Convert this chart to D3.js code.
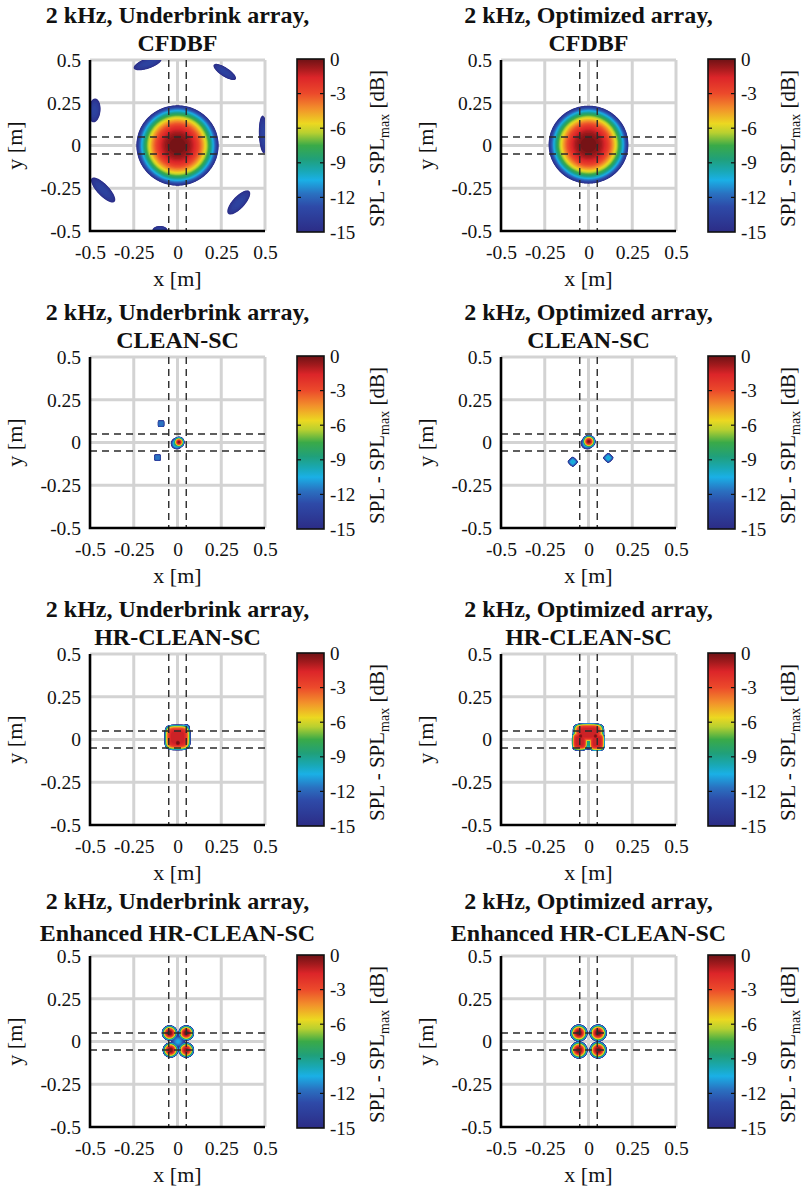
<!DOCTYPE html>
<html>
<head>
<meta charset="utf-8">
<script src="https://cdn.jsdelivr.net/npm/d3@7"></script>
<style>
body { margin: 0; background: #fff; }
text { font-family: "Liberation Serif", "Times New Roman", serif; fill: #111; }
</style>
</head>
<body>
<svg id="mainsvg" width="804" height="1197"></svg>
<script>
// ---- chart values ----
var arrayNames = ["Underbrink", "Optimized"];
var methodNames = ["CFDBF", "CLEAN-SC", "HR-CLEAN-SC", "Enhanced HR-CLEAN-SC"];
var axisTicks = [-0.5, -0.25, 0, 0.25, 0.5];
var axisTickLabels = ["-0.5", "-0.25", "0", "0.25", "0.5"];
var gridValues = [-0.25, 0, 0.25, 0.5];
var sourceLines = [-0.05, 0.05];
var cbTicks = [0, -3, -6, -9, -12, -15];
var cmapLevels = [0, -0.8, -1.6, -3, -4.3, -5.6, -6.4, -7.5, -8.7, -9.7, -10.5, -11.7, -12.8, -15];
var cmapColors = ["#6e1215", "#a31a1d", "#dc2529", "#ec4a2b", "#f2902b", "#ecd821", "#b8d030", "#3aaa48",
                  "#20a07a", "#19a8b4", "#1ab0e6", "#2a70c0", "#2e4aa8", "#2c2c86"];

// map lobes: [x, y, peak dB, rx, ry, angle deg, shape q, falloff p]
var ubCfdbf = [
  [0, 0, 0, 0.235, 0.235, 0, 2, 2.5],
  [-0.17, 0.48, -13.4, 0.085, 0.03, 20, 2, 3],
  [0.27, 0.43, -13.4, 0.076, 0.026, -34, 2, 3],
  [-0.475, 0.205, -13.4, 0.07, 0.035, 85, 2, 3],
  [0.49, 0.065, -13.4, 0.11, 0.025, 92, 2, 3],
  [-0.425, -0.26, -13.4, 0.095, 0.034, -47, 2, 3],
  [0.35, -0.333, -13.4, 0.09, 0.035, 48, 2, 3],
  [-0.1, -0.5, -13.4, 0.045, 0.03, 0, 2, 3]
];
var optCfdbf = [
  [0, 0.005, 0, 0.228, 0.228, 0, 2, 2.5]
];
var ubClean = [
  [0.008, 0.002, 0, 0.032, 0.032, 0, 2, 1.8],
  [-0.004, -0.006, -8, 0.034, 0.034, 0, 2, 2],
  [-0.094, 0.11, -11.6, 0.019, 0.019, 0, 6, 6],
  [-0.114, -0.088, -11.6, 0.019, 0.019, 0, 6, 6]
];
var optClean = [
  [0.002, 0.006, 0, 0.038, 0.038, 0, 2, 2],
  [-0.008, -0.004, -8.5, 0.036, 0.036, 0, 2, 2],
  [-0.09, -0.113, -10.2, 0.03, 0.03, 0, 1.2, 3],
  [0.113, -0.09, -10.2, 0.03, 0.03, 0, 1.2, 3]
];
var ubHr = [
  [0, 0.012, -1.3, 0.075, 0.075, 0, 4, 6],
  [0.002, -0.02, 0, 0.022, 0.022, 0, 2, 4],
  [0.05, 0.07, -9, 0.02, 0.02, 0, 2, 2]
];
var optHr = [
  [0, 0.04, -1.3, 0.09, 0.055, 0, 4, 6],
  [-0.05, -0.01, -1.3, 0.045, 0.055, 0, 4, 6],
  [0.048, -0.012, -1.3, 0.045, 0.055, 0, 4, 6],
  [0, -0.025, -8.5, 0.03, 0.035, 0, 2, 2],
  [-0.045, 0.02, 0, 0.018, 0.018, 0, 2, 4],
  [0.04, 0.02, 0, 0.018, 0.018, 0, 2, 4]
];
var ubEnh = [
  [-0.045, 0.05, 0, 0.045, 0.045, 0, 2, 2.5],
  [0.05, 0.05, 0, 0.045, 0.045, 0, 2, 2.5],
  [-0.04, -0.05, 0, 0.045, 0.045, 0, 2, 2.5],
  [0.05, -0.05, -0.5, 0.045, 0.045, 0, 2, 2.5],
  [0.003, 0, -10.5, 0.04, 0.04, 0, 2, 2]
];
var optEnh = [
  [-0.055, 0.05, 0, 0.05, 0.05, 0, 2, 2.5],
  [0.055, 0.05, 0, 0.05, 0.05, 0, 2, 2.5],
  [-0.055, -0.05, 0, 0.05, 0.05, 0, 2, 2.5],
  [0.055, -0.05, 0, 0.05, 0.05, 0, 2, 2.5]
];
var panelLobes = [[ubCfdbf, optCfdbf], [ubClean, optClean], [ubHr, optHr], [ubEnh, optEnh]];

// ---- layout ----
var colLeft = [90, 501];
var plotW = 175;
var rowTop = [60, 357, 654, 956];
var plotH = 171;
var N = 240;

var svg = d3.select("#mainsvg");
var cmap = d3.scaleLinear().domain(cmapLevels).range(cmapColors).interpolate(d3.interpolateRgb).clamp(true);
var thresholds = d3.range(-15, 0.001, 0.25);

// gradient for colour bars
var grad = svg.append("defs").append("linearGradient")
	.attr("id", "jetgrad")
	.attr("x1", 0).attr("y1", 0).attr("x2", 0).attr("y2", 1);
cmapLevels.forEach(function(l, i) {
	grad.append("stop").attr("offset", (-l / 15 * 100) + "%").attr("stop-color", cmapColors[i]);
});

function field(lobes) {
	var vals = new Float64Array(N * N);
	for (var j = 0; j < N; j++) {
		var y = 0.5 - (j + 0.5) / N;
		for (var i = 0; i < N; i++) {
			var x = -0.5 + (i + 0.5) / N;
			var best = -40;
			lobes.forEach(function(b) {
				var a = b[5] * Math.PI / 180;
				var dx = x - b[0], dy = y - b[1];
				var u = (dx * Math.cos(a) + dy * Math.sin(a)) / b[3];
				var v = (-dx * Math.sin(a) + dy * Math.cos(a)) / b[4];
				var q = b[6];
				var d = Math.pow(Math.pow(Math.abs(u), q) + Math.pow(Math.abs(v), q), 1 / q);
				var L = b[2] - (b[2] + 15) * Math.pow(d, b[7]);
				if (L > best) best = L;
			});
			vals[j * N + i] = Math.max(best, -40);
		}
	}
	return vals;
}

function drawPanel(row, col) {
	var x0 = colLeft[col], y0 = rowTop[row];
	var xs = d3.scaleLinear().domain([-0.5, 0.5]).range([x0, x0 + plotW]);
	var ys = d3.scaleLinear().domain([-0.5, 0.5]).range([y0 + plotH, y0]);
	var g = svg.append("g").attr("class", "panel");

	// title
	var t1 = row == 3 ? 47 : 37, t2 = row == 3 ? 15 : 9;
	g.append("text").attr("x", x0 + plotW / 2).attr("y", y0 - t1)
		.attr("text-anchor", "middle").attr("font-size", 24).attr("font-weight", "bold")
		.text("2 kHz, " + arrayNames[col] + " array,");
	g.append("text").attr("x", x0 + plotW / 2).attr("y", y0 - t2)
		.attr("text-anchor", "middle").attr("font-size", 24).attr("font-weight", "bold")
		.text(methodNames[row]);

	// grid
	var grid = g.append("g").attr("stroke", "#d3d3d3").attr("stroke-width", 3);
	gridValues.forEach(function(v) {
		grid.append("line").attr("x1", xs(v)).attr("x2", xs(v)).attr("y1", y0).attr("y2", y0 + plotH);
		grid.append("line").attr("y1", ys(v)).attr("y2", ys(v)).attr("x1", x0).attr("x2", x0 + plotW);
	});

	// map
	var vals = field(panelLobes[row][col]);
	var proj = d3.geoTransform({
		point: function(px, py) { this.stream.point(xs(-0.5 + px / N), ys(0.5 - py / N)); }
	});
	var path = d3.geoPath(proj);
	var contours = d3.contours().size([N, N]).thresholds(thresholds)(vals);
	g.append("g").selectAll("path")
		.data(contours)
		.enter().append("path")
		.attr("d", path)
		.attr("fill", function(d) { return cmap(Math.min(0, d.value + 0.125)); });

	// source marker lines
	var dash = g.append("g").attr("stroke", "#2a2a2a").attr("stroke-width", 1.4).attr("stroke-dasharray", "7,5");
	sourceLines.forEach(function(v) {
		dash.append("line").attr("x1", xs(v)).attr("x2", xs(v)).attr("y1", y0).attr("y2", y0 + plotH);
		dash.append("line").attr("y1", ys(v)).attr("y2", ys(v)).attr("x1", x0).attr("x2", x0 + plotW);
	});

	// axes
	var fmt = function(d, i) { return axisTickLabels[i]; };
	var xa = g.append("g").attr("transform", "translate(0," + (y0 + plotH) + ")")
		.call(d3.axisBottom(xs).tickValues(axisTicks).tickFormat(fmt).tickSize(0).tickPadding(14));
	var ya = g.append("g").attr("transform", "translate(" + x0 + ",0)")
		.call(d3.axisLeft(ys).tickValues(axisTicks).tickFormat(fmt).tickSize(0).tickPadding(9));
	[xa, ya].forEach(function(a) {
		a.select(".domain").remove();
		a.attr("font-family", null).attr("font-size", null);
		a.selectAll("text").attr("font-size", 19.5).style("fill", "#111");
	});
	g.append("path")
		.attr("d", "M" + x0 + "," + y0 + "V" + (y0 + plotH) + "H" + (x0 + plotW))
		.attr("fill", "none").attr("stroke", "#000").attr("stroke-width", 2.6);

	g.append("text").attr("x", x0 + plotW / 2).attr("y", y0 + plotH + 55)
		.attr("text-anchor", "middle").attr("font-size", 22).text("x [m]");
	g.append("text").attr("transform", "translate(" + (x0 - 68) + "," + (y0 + plotH / 2) + ") rotate(-90)")
		.attr("text-anchor", "middle").attr("font-size", 22).text("y [m]");

	// colour bar
	var bx = x0 + 207, bw = 27;
	var cs = d3.scaleLinear().domain([-15, 0]).range([y0 + plotH + 1, y0 - 1]);
	g.append("rect").attr("x", bx).attr("y", y0 - 1).attr("width", bw).attr("height", plotH + 2)
		.attr("fill", "url(#jetgrad)").attr("stroke", "#111").attr("stroke-width", 1.6);
	var tk = g.append("g").attr("stroke", "#111").attr("stroke-width", 1.2);
	cbTicks.slice(1, -1).forEach(function(v) {
		tk.append("line").attr("x1", bx + bw - 4).attr("x2", bx + bw).attr("y1", cs(v)).attr("y2", cs(v));
		tk.append("line").attr("x1", bx).attr("x2", bx + 4).attr("y1", cs(v)).attr("y2", cs(v));
	});
	var ca = g.append("g").attr("transform", "translate(" + (bx + bw) + ",0)")
		.call(d3.axisRight(cs).tickValues(cbTicks).tickFormat(function(d) { return String(d); }).tickSize(0).tickPadding(6));
	ca.select(".domain").remove();
	ca.attr("font-family", null).attr("font-size", null);
	ca.selectAll("text").attr("font-size", 19).style("fill", "#111");

	var lab = g.append("text")
		.attr("transform", "translate(" + (bx + bw + 60) + "," + (y0 + plotH / 2 + 3) + ") rotate(-90)")
		.attr("text-anchor", "middle").attr("font-size", 21);
	lab.append("tspan").text("SPL - SPL");
	lab.append("tspan").attr("font-size", 14).attr("dy", 5).text("max");
	lab.append("tspan").attr("dy", -5).text(" [dB]");
}

for (var r = 0; r < 4; r++) {
	for (var c = 0; c < 2; c++) drawPanel(r, c);
}
</script>
</body>
</html>
